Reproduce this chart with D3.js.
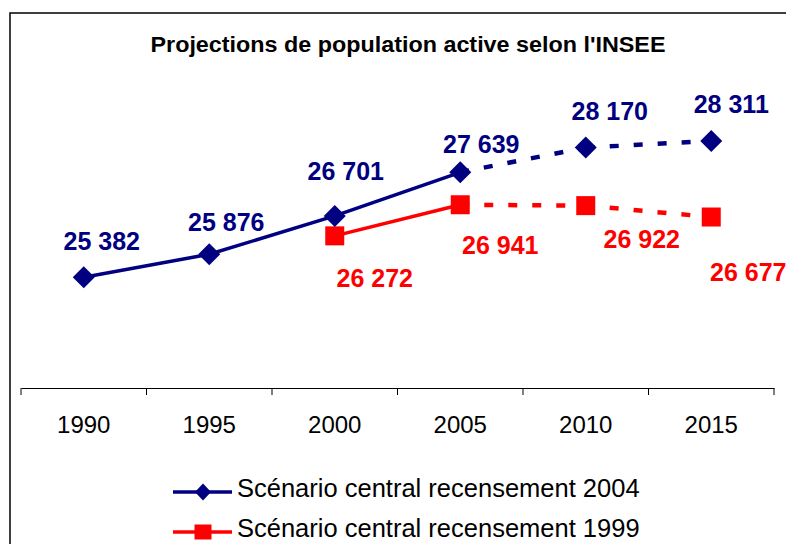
<!DOCTYPE html>
<html>
<head>
<meta charset="utf-8">
<script src="https://cdn.jsdelivr.net/npm/d3@7"></script>
<style>
  html, body { margin: 0; padding: 0; background: #fff; }
  svg { display: block; font-family: Arial, "Liberation Sans", sans-serif; }
</style>
</head>
<body>
<svg id="chart" width="786" height="544"></svg>
<script>
// data
const years = ['1990', '1995', '2000', '2005', '2010', '2015'];
const census2004 = [25382, 25876, 26701, 27639, 28170, 28311];
const census1999 = [null, null, 26272, 26941, 26922, 26677];
const firstProjectedYear = '2005';
const seriesNames = ['Scénario central recensement 2004', 'Scénario central recensement 1999'];
const title = "Projections de population active selon l'INSEE";

// label nudges (px) — labels in the original were placed by hand
const blueLabelShift = [[18, -36], [17, -32], [11, -45], [21, -28], [24, -37], [20, -37]];
const redLabelShift = [null, null, [40, 42], [40, 40], [56, 33], [37, 55]];

const BLUE = '#000080';
const RED = '#ff0000';
const fmt = v => d3.format(',')(v).replace(',', ' ');

const svg = d3.select('#chart');

// outer frame (runs off the right/bottom edge in the original)
svg.append('rect')
  .attr('x', 10).attr('y', 13)
  .attr('width', 900).attr('height', 700)
  .attr('fill', 'none').attr('stroke', '#000').attr('stroke-width', 1.5);

svg.append('text')
  .attr('x', 408).attr('y', 52)
  .attr('text-anchor', 'middle')
  .attr('font-size', 22).attr('font-weight', 'bold')
  .attr('textLength', 515).attr('lengthAdjust', 'spacingAndGlyphs')
  .text(title);

const x = d3.scaleBand().domain(years).range([21, 774]).paddingInner(0).paddingOuter(0);
const y = d3.scaleLinear().domain([23000, 29000]).range([388, 109]);
const cx = d => x(d) + x.bandwidth() / 2;

// category axis: Excel style, ticks on the band edges
const axisG = svg.append('g').attr('transform', `translate(0, ${y.range()[0]})`);
axisG.call(d3.axisBottom(x).tickSize(0).tickPadding(28))
  .call(g => g.select('.domain').attr('stroke', '#000').attr('stroke-width', 1))
  .call(g => g.selectAll('.tick text')
    .attr('font-size', 24).attr('fill', '#000')
    .attr('font-family', 'Arial, "Liberation Sans", sans-serif'));
const edges = years.map(d => x(d)).concat([x.range()[1]]);
axisG.selectAll('line.edge')
  .data(edges)
  .join('line')
  .attr('class', 'edge')
  .attr('x1', d => d).attr('x2', d => d)
  .attr('y1', 0).attr('y2', 7)
  .attr('stroke', '#000');

const splitAt = years.indexOf(firstProjectedYear);

function drawSeries(values, color, marker, shifts, labelSize) {
  const pts = years.map((yr, i) => ({ yr, v: values[i], i })).filter(p => p.v != null);
  const line = d3.line().x(p => cx(p.yr)).y(p => y(p.v));
  const solid = pts.filter(p => p.i <= splitAt);
  const dashed = pts.filter(p => p.i >= splitAt);
  const g = svg.append('g');
  g.append('path').attr('d', line(solid))
    .attr('fill', 'none').attr('stroke', color).attr('stroke-width', 3.5);
  // each projected segment restarts the dash pattern like Excel does
  for (let k = 0; k < dashed.length - 1; k++) {
    g.append('path').attr('d', line([dashed[k], dashed[k + 1]]))
      .attr('fill', 'none').attr('stroke', color).attr('stroke-width', 4.5)
      .attr('stroke-dasharray', '9,15');
  }
  g.selectAll('path.mk')
    .data(pts)
    .join('path')
    .attr('class', 'mk')
    .attr('transform', p => `translate(${cx(p.yr)}, ${y(p.v)})`)
    .attr('d', marker)
    .attr('fill', color);
  g.selectAll('text.lbl')
    .data(pts)
    .join('text')
    .attr('class', 'lbl')
    .attr('x', p => cx(p.yr) + shifts[p.i][0])
    .attr('y', p => y(p.v) + shifts[p.i][1] + labelSize * 0.36)
    .attr('text-anchor', 'middle')
    .attr('font-size', labelSize).attr('font-weight', 'bold')
    .attr('fill', color)
    .text(p => fmt(p.v));
}

const diamond = 'M0,-11L11,0L0,11L-11,0Z';
const square = 'M-9.5,-9.5H9.5V9.5H-9.5Z';

drawSeries(census1999, RED, square, redLabelShift, 25);
drawSeries(census2004, BLUE, diamond, blueLabelShift, 25);

// legend
const legend = svg.append('g');
const rows = [
  { name: seriesNames[0], color: BLUE, marker: 'M0,-8.5L8,0L0,8.5L-8,0Z', ly: 492 },
  { name: seriesNames[1], color: RED, marker: 'M-8.5,-7.5H8.5V7.5H-8.5Z', ly: 532 }
];
const item = legend.selectAll('g').data(rows).join('g')
  .attr('transform', r => `translate(0, ${r.ly})`);
item.append('line')
  .attr('x1', 173).attr('x2', 232)
  .attr('stroke', r => r.color).attr('stroke-width', 3.5);
item.append('path')
  .attr('transform', 'translate(203, 0)')
  .attr('d', r => r.marker)
  .attr('fill', r => r.color);
item.append('text')
  .attr('x', 237).attr('y', 5)
  .attr('font-size', 25.5)
  .attr('fill', '#000')
  .text(r => r.name);
</script>
</body>
</html>
